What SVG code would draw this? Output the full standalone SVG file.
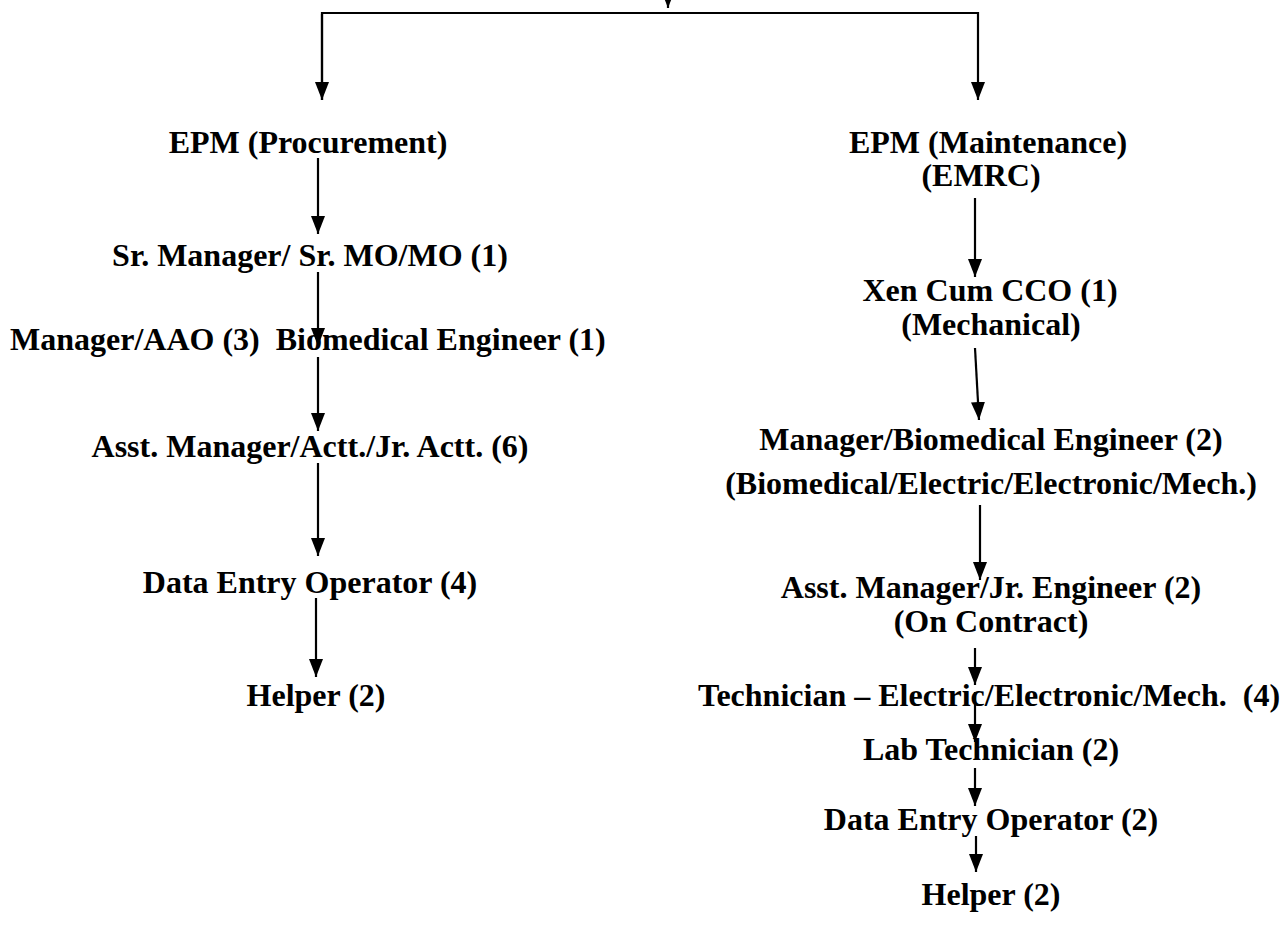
<svg xmlns="http://www.w3.org/2000/svg" width="1284" height="933" viewBox="0 0 1284 933">
<defs>
<marker id="ah" markerWidth="18" markerHeight="14" refX="18" refY="7" orient="auto" markerUnits="userSpaceOnUse">
<path d="M0,0 L18,7 L0,14 z" fill="#000"/>
</marker>
<style>
text{font-family:"Liberation Serif","Times New Roman",serif;font-weight:bold;font-size:32px;fill:#000}
.m{text-anchor:middle}
.c line,.c path{stroke:#000;stroke-width:2.2;fill:none}
</style>
</defs>
<rect width="1284" height="933" fill="#fff"/>
<g id="connectors" class="c">
<line x1="668" y1="-12" x2="668" y2="8" marker-end="url(#ah)"/>
<path d="M322,100 V13 H978 V100" marker-end="url(#ah)"/>
<line x1="322" y1="14" x2="322" y2="100" marker-end="url(#ah)"/>
<line x1="318" y1="158" x2="318" y2="234" marker-end="url(#ah)"/>
<line x1="318" y1="272" x2="318" y2="346" marker-end="url(#ah)"/>
<line x1="318" y1="357" x2="318" y2="431" marker-end="url(#ah)"/>
<line x1="318" y1="463" x2="318" y2="556" marker-end="url(#ah)"/>
<line x1="316" y1="598" x2="316" y2="677" marker-end="url(#ah)"/>
<line x1="975" y1="198" x2="975" y2="277" marker-end="url(#ah)"/>
<line x1="975" y1="348" x2="979" y2="420" marker-end="url(#ah)"/>
<line x1="980" y1="505" x2="980" y2="580" marker-end="url(#ah)"/>
<line x1="975" y1="648" x2="975" y2="685" marker-end="url(#ah)"/>
<line x1="975" y1="692" x2="975" y2="742" marker-end="url(#ah)"/>
<line x1="975" y1="768" x2="975" y2="806" marker-end="url(#ah)"/>
<line x1="976" y1="836" x2="976" y2="872" marker-end="url(#ah)"/>
</g>
<g id="n-epm-proc"><text class="m" x="308" y="153">EPM (Procurement)</text></g>
<g id="n-sr-manager"><text class="m" x="310" y="266">Sr. Manager/ Sr. MO/MO (1)</text></g>
<g id="n-manager-aao"><text x="10" y="350" xml:space="preserve">Manager/AAO (3)  Biomedical Engineer (1)</text></g>
<g id="n-asst-manager-l"><text class="m" x="310" y="457">Asst. Manager/Actt./Jr. Actt. (6)</text></g>
<g id="n-deo-l"><text class="m" x="310" y="593">Data Entry Operator (4)</text></g>
<g id="n-helper-l"><text class="m" x="316" y="706">Helper (2)</text></g>
<g id="n-epm-maint"><text class="m" x="988" y="153">EPM (Maintenance)</text><text class="m" x="981" y="186">(EMRC)</text></g>
<g id="n-xen"><text class="m" x="990" y="301">Xen Cum CCO (1)</text><text class="m" x="991" y="335">(Mechanical)</text></g>
<g id="n-manager-bio"><text class="m" x="991" y="450">Manager/Biomedical Engineer (2)</text><text class="m" x="991" y="494">(Biomedical/Electric/Electronic/Mech.)</text></g>
<g id="n-asst-manager-r"><text class="m" x="991" y="598">Asst. Manager/Jr. Engineer (2)</text><text class="m" x="991" y="632">(On Contract)</text></g>
<g id="n-technician"><text x="698" y="706" xml:space="preserve">Technician – Electric/Electronic/Mech.  (4)</text></g>
<g id="n-lab-tech"><text class="m" x="991" y="760">Lab Technician (2)</text></g>
<g id="n-deo-r"><text class="m" x="991" y="830">Data Entry Operator (2)</text></g>
<g id="n-helper-r"><text class="m" x="991" y="905">Helper (2)</text></g>
</svg>
